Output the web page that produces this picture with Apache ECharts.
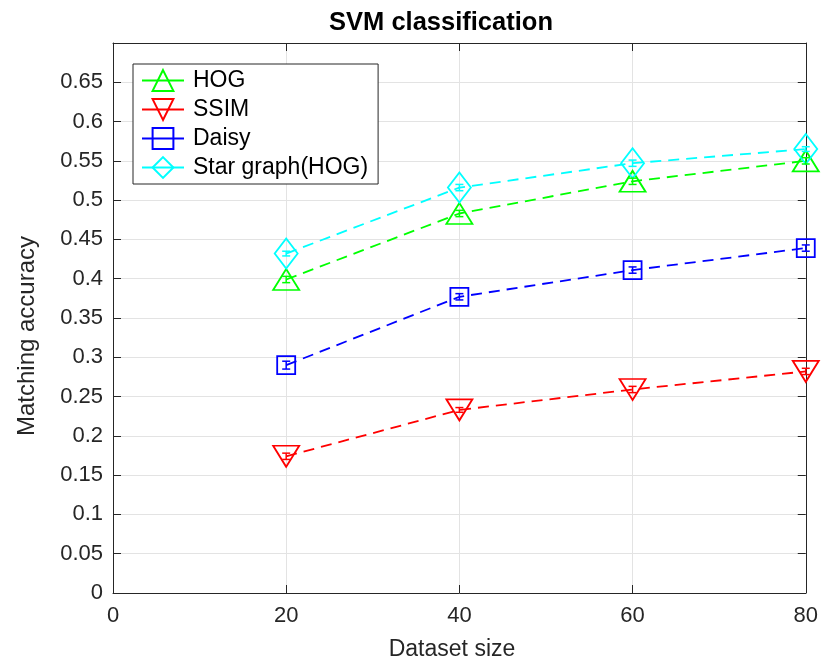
<!DOCTYPE html>
<html><head><meta charset="utf-8">
<script src="https://cdn.jsdelivr.net/npm/echarts@6/dist/echarts.min.js"></script>
<style>html,body{margin:0;padding:0;background:#fff}#c{width:821px;height:662px}</style>
</head><body><div id="c"></div>
<script>
const datasetSizes = [20, 40, 60, 80];
const hog = [0.399, 0.483, 0.524, 0.550];
const ssim = [0.174, 0.233, 0.259, 0.282];
const daisy = [0.290, 0.377, 0.411, 0.439];
const starGraph = [0.432, 0.516, 0.547, 0.565];
const hogErr = [0.004, 0.004, 0.004, 0.004];
const ssimErr = [0.004, 0.003, 0.004, 0.004];
const daisyErr = [0.005, 0.004, 0.004, 0.004];
const starErr = [0.003, 0.004, 0.004, 0.003];
const seriesNames = ['HOG', 'SSIM', 'Daisy', 'Star graph(HOG)'];
const yTicks = [0, 0.05, 0.1, 0.15, 0.2, 0.25, 0.3, 0.35, 0.4, 0.45, 0.5, 0.55, 0.6, 0.65];

const FONT = 'Liberation Sans, Arial, Helvetica, sans-serif';
const AX = '#262626';
const chart = echarts.init(document.getElementById('c'), null, {renderer: 'canvas'});

function pts(vals) { return datasetSizes.map((x, i) => [x, vals[i]]); }
function errPts(vals, errs) { return datasetSizes.map((x, i) => [x, vals[i] - errs[i], vals[i] + errs[i]]); }

function lineSeries(name, vals, color, symbol, size, rotate) {
  return {
    name, type: 'line', data: pts(vals), z: 3,
    symbol, symbolSize: size, symbolRotate: rotate || 0, showAllSymbol: true,
    lineStyle: {color, width: 1.8, type: [11, 7]},
    itemStyle: {color: 'rgba(255,255,255,0)', borderColor: color, borderWidth: 1.8},
    emphasis: {disabled: true}
  };
}
function errSeries(vals, errs, color) {
  return {
    type: 'custom', data: errPts(vals, errs), z: 4, silent: true,
    renderItem: function (params, api) {
      const x = api.value(0);
      const lo = api.coord([x, api.value(1)]);
      const hi = api.coord([x, api.value(2)]);
      const w = 4;
      const st = {stroke: color, lineWidth: 1.5};
      return {type: 'group', children: [
        {type: 'line', shape: {x1: lo[0], y1: lo[1], x2: hi[0], y2: hi[1]}, style: st},
        {type: 'line', shape: {x1: lo[0] - w, y1: lo[1], x2: lo[0] + w, y2: lo[1]}, style: st},
        {type: 'line', shape: {x1: hi[0] - w, y1: hi[1], x2: hi[0] + w, y2: hi[1]}, style: st}
      ]};
    }
  };
}

const colors = ['#00ff00', '#ff0000', '#0000ff', '#00ffff'];
const tickLabelStyle = {color: AX, fontSize: 22, fontFamily: FONT};

const option = {
  animation: false,
  backgroundColor: '#fff',
  grid: {left: 113, right: 13, top: 43, bottom: 69, containLabel: false},
  xAxis: [{
    type: 'value', min: 0, max: 80, interval: 20,
    axisLine: {show: true, lineStyle: {color: AX, width: 1}},
    axisTick: {show: true, inside: true, length: 8, lineStyle: {color: AX}},
    axisLabel: Object.assign({margin: 12}, tickLabelStyle),
    splitLine: {show: true, lineStyle: {color: '#e3e3e3', width: 1}}
  }, {
    type: 'value', position: 'top', min: 0, max: 80, interval: 20,
    axisLine: {show: true, onZero: false, lineStyle: {color: AX, width: 1}},
    axisTick: {show: true, inside: true, length: 8, lineStyle: {color: AX}},
    axisLabel: {show: false}, splitLine: {show: false}
  }],
  yAxis: [{
    type: 'value', min: 0, max: 0.7, interval: 0.05,
    axisLine: {show: true, lineStyle: {color: AX, width: 1}},
    axisTick: {show: true, inside: true, length: 8, lineStyle: {color: AX}},
    axisLabel: Object.assign({margin: 10, showMaxLabel: false,
      formatter: v => {
        const r = Math.round(v * 100) / 100;
        return yTicks.some(t => Math.abs(t - r) < 1e-9) ? String(r) : '';
      }}, tickLabelStyle),
    splitLine: {show: true, lineStyle: {color: '#e3e3e3', width: 1}}
  }, {
    type: 'value', position: 'right', min: 0, max: 0.7, interval: 0.05,
    axisLine: {show: true, onZero: false, lineStyle: {color: AX, width: 1}},
    axisTick: {show: true, inside: true, length: 8, lineStyle: {color: AX}},
    axisLabel: {show: false}, splitLine: {show: false}
  }],
  legend: {
    orient: 'vertical', left: 133, top: 64, width: 246,
    padding: [5, 10, 5, 8], itemGap: 6, itemWidth: 42, itemHeight: 26,
    borderColor: AX, borderWidth: 1, backgroundColor: '#fff',
    textStyle: {color: '#000', fontSize: 23, fontFamily: FONT, padding: [0, 0, 0, 4]},
    lineStyle: {type: 'solid'},
    data: seriesNames
  },
  series: [
    lineSeries(seriesNames[0], hog, colors[0], 'triangle', [26, 21]),
    lineSeries(seriesNames[1], ssim, colors[1], 'triangle', [26, 21], 180),
    lineSeries(seriesNames[2], daisy, colors[2], 'rect', [18, 18]),
    lineSeries(seriesNames[3], starGraph, colors[3], 'diamond', [23, 30]),
    errSeries(hog, hogErr, colors[0]),
    errSeries(ssim, ssimErr, colors[1]),
    errSeries(daisy, daisyErr, colors[2]),
    errSeries(starGraph, starErr, colors[3])
  ],
  graphic: [
    {type: 'text', x: 441, y: 23, style: {text: 'SVM classification', fill: '#000', font: 'bold 25.5px ' + FONT, align: 'center', verticalAlign: 'middle'}},
    {type: 'text', x: 452, y: 650, style: {text: 'Dataset size', fill: AX, font: '23px ' + FONT, align: 'center', verticalAlign: 'middle'}},
    {type: 'text', x: 27, y: 336, rotation: Math.PI / 2, style: {text: 'Matching accuracy', fill: AX, font: '24px ' + FONT, align: 'center', verticalAlign: 'middle'}}
  ]
};
chart.setOption(option);
</script></body></html>
